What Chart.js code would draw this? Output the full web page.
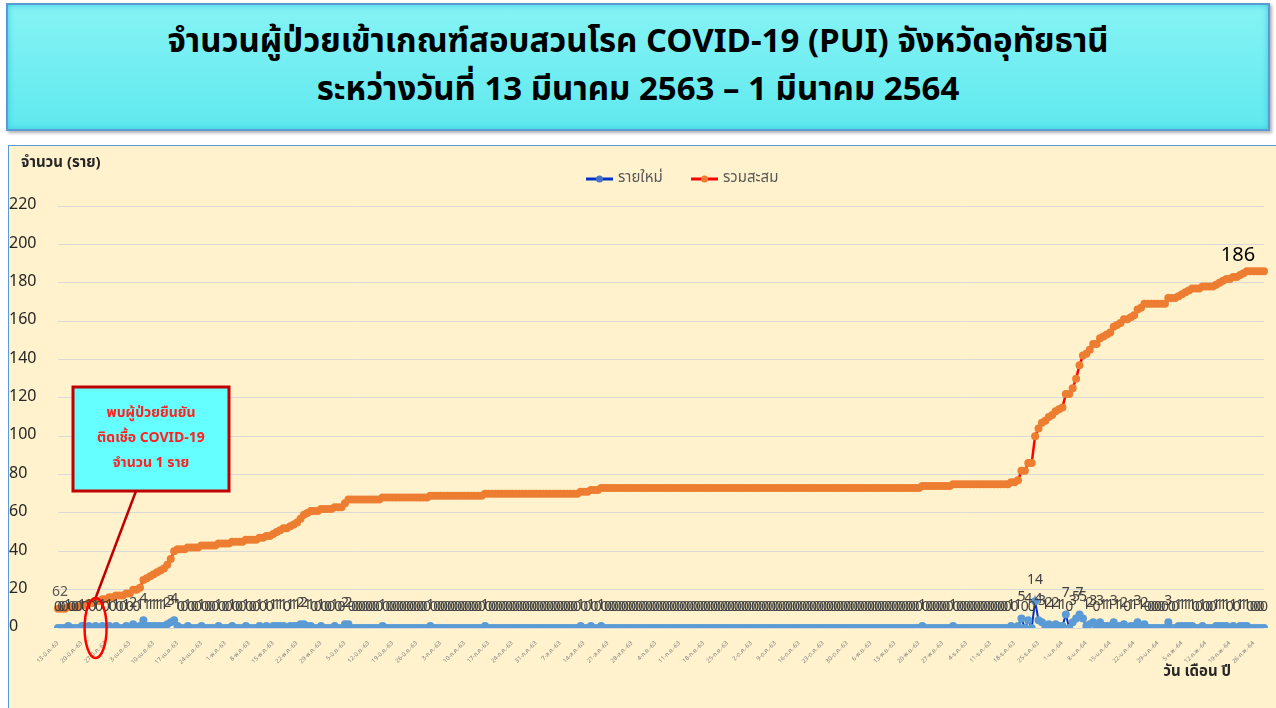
<!DOCTYPE html>
<html lang="th">
<head>
<meta charset="UTF-8">
<title>จำนวนผู้ป่วยเข้าเกณฑ์สอบสวนโรค COVID-19 (PUI) จังหวัดอุทัยธานี</title>
<script src="https://cdn.jsdelivr.net/npm/chart.js"></script>
<style>
    body {
        margin: 0;
        background: #ffffff;
        font-family: Tahoma, "Noto Sans Thai", "Noto Sans", "DejaVu Sans", sans-serif;
    }
    .title-box {
        position: absolute;
        left: 6px;
        top: 3px;
        width: 1260px;
        height: 124px;
        border: 2px solid #5b9bd5;
        background: linear-gradient(to bottom, #86f3f5, #5fe9ee);
        box-shadow: inset 0 0 6px #3cc7e0, 2px 2px 3px #b0b0b0;
        text-align: center;
        color: #000;
        font-weight: bold;
        font-size: 33px;
    }
    .title-box div { position: absolute; left: 0; right: 0; }
    .chart-box {
        position: absolute;
        left: 8px;
        top: 145px;
        width: 1268px;
        height: 563px;
        background: #fff2cc;
        border-left: 1px solid #5b9bd5;
        border-top: 1px solid #5b9bd5;
    }
</style>
</head>
<body>
<div class="title-box">
    <div style="top:12px">จำนวนผู้ป่วยเข้าเกณฑ์สอบสวนโรค COVID-19 (PUI) จังหวัดอุทัยธานี</div>
    <div style="top:60px">ระหว่างวันที่ 13 มีนาคม 2563 – 1 มีนาคม 2564</div>
</div>
<div class="chart-box">
    <canvas id="puiChart" width="1268" height="563"></canvas>
</div>

<script>
// ข้อมูลรายวัน 13 มี.ค. 63 - 1 มี.ค. 64 (354 วัน)
const thaiMonths = ['ม.ค.', 'ก.พ.', 'มี.ค.', 'เม.ย.', 'พ.ค.', 'มิ.ย.', 'ก.ค.', 'ส.ค.', 'ก.ย.', 'ต.ค.', 'พ.ย.', 'ธ.ค.'];
const firstDay = [2020, 2, 13];
const dayCount = 354;

// รายใหม่
const dailyNew = [
    0, 0, 0, 1, 0, 0, 0, 1, 0, 1,
    0, 1, 0, 1, 0, 1, 0, 1, 0, 0,
    1, 0, 2, 0, 1, 4, 1, 1, 1, 1,
    1, 1, 2, 3, 4, 1, 0, 0, 1, 0,
    0, 0, 1, 0, 0, 0, 0, 1, 0, 0,
    0, 1, 0, 0, 0, 1, 0, 0, 0, 1,
    0, 1, 0, 1, 1, 1, 1, 0, 1, 1,
    1, 2, 2, 1, 1, 0, 0, 1, 0, 0,
    0, 1, 0, 0, 2, 2, 0, 0, 0, 0,
    0, 0, 0, 0, 0, 1, 0, 0, 0, 0,
    0, 0, 0, 0, 0, 0, 0, 0, 0, 1,
    0, 0, 0, 0, 0, 0, 0, 0, 0, 0,
    0, 0, 0, 0, 0, 1, 0, 0, 0, 0,
    0, 0, 0, 0, 0, 0, 0, 0, 0, 0,
    0, 0, 0, 0, 0, 0, 0, 0, 0, 0,
    0, 0, 0, 1, 0, 0, 1, 0, 0, 1,
    0, 0, 0, 0, 0, 0, 0, 0, 0, 0,
    0, 0, 0, 0, 0, 0, 0, 0, 0, 0,
    0, 0, 0, 0, 0, 0, 0, 0, 0, 0,
    0, 0, 0, 0, 0, 0, 0, 0, 0, 0,
    0, 0, 0, 0, 0, 0, 0, 0, 0, 0,
    0, 0, 0, 0, 0, 0, 0, 0, 0, 0,
    0, 0, 0, 0, 0, 0, 0, 0, 0, 0,
    0, 0, 0, 0, 0, 0, 0, 0, 0, 0,
    0, 0, 0, 0, 0, 0, 0, 0, 0, 0,
    0, 0, 0, 1, 0, 0, 0, 0, 0, 0,
    0, 0, 1, 0, 0, 0, 0, 0, 0, 0,
    0, 0, 0, 0, 0, 0, 0, 0, 0, 1,
    0, 1, 5, 0, 4, 0, 14, 4, 3, 1,
    2, 1, 2, 1, 1, 7, 0, 3, 5, 7,
    5, 1, 2, 3, 0, 3, 1, 1, 1, 3,
    1, 1, 2, 0, 1, 1, 3, 1, 2, 0,
    0, 0, 0, 0, 0, 3, 0, 0, 1, 1,
    1, 1, 1, 0, 0, 1, 0, 0, 0, 1,
    1, 1, 1, 0, 1, 0, 1, 1, 1, 0,
    0, 0, 0, 0
];
// ยอดสะสมก่อนวันแรกของกราฟ
const startTotal = 10;
// ป้ายที่จุดแรกและจุดสุดท้ายของเส้นสะสม
const totalEndLabels = ['62', '186'];

const seriesNames = ['รายใหม่', 'รวมสะสม'];
const yTicks = { min: 0, max: 220, step: 20 };

const FONT = 'Tahoma, "Noto Sans Thai", "Noto Sans", "DejaVu Sans", sans-serif';

// วันที่ เช่น 13-มี.ค.-63
const dateLabels = [];
for (let i = 0; i < dayCount; i++) {
    const d = new Date(firstDay[0], firstDay[1], firstDay[2] + i);
    const yy = String(d.getFullYear() + 543).slice(2);
    dateLabels.push(d.getDate() + '-' + thaiMonths[d.getMonth()] + '-' + yy);
}

// รวมสะสม = ยอดเดิม + รายใหม่ทีละวัน
const cumulative = [];
let running = startTotal;
dailyNew.forEach(v => { running += v; cumulative.push(running); });

const decorPlugin = {
    id: 'decor',
    afterDatasetsDraw(chart) {
        const ctx = chart.ctx;
        const xs = chart.scales.x, ys = chart.scales.y;
        ctx.save();

        // ป้ายค่ารายใหม่ทุกจุด
        ctx.font = '14px ' + FONT;
        ctx.fillStyle = '#404040';
        ctx.textAlign = 'center';
        ctx.textBaseline = 'middle';
        chart.getDatasetMeta(0).data.forEach((pt, i) => {
            ctx.fillText(String(dailyNew[i]), pt.x, pt.y - 20);
        });

        // ป้ายเส้นสะสม
        const tot = chart.getDatasetMeta(1).data;
        ctx.fillStyle = '#595959';
        ctx.font = '14px ' + FONT;
        ctx.fillText(totalEndLabels[0], tot[0].x + 2, tot[0].y - 16);
        ctx.fillStyle = '#000';
        ctx.font = '20px ' + FONT;
        ctx.fillText(totalEndLabels[1], tot[tot.length - 1].x - 26, tot[tot.length - 1].y - 14);

        // ชื่อแกน
        ctx.fillStyle = '#262626';
        ctx.font = 'bold 15px ' + FONT;
        ctx.textAlign = 'left';
        ctx.fillText('จำนวน (ราย)', 12, 18);
        ctx.font = 'bold 15px ' + FONT;
        ctx.textAlign = 'right';
        ctx.fillText('วัน เดือน ปี', 1222, 527);

        // คำอธิบาย
        const ly = 33;
        const items = [
            { x: 577, line: '#0033cc', dot: '#4472c4', text: seriesNames[0] },
            { x: 682, line: '#ff0000', dot: '#ed7d31', text: seriesNames[1] }
        ];
        ctx.font = '15px ' + FONT;
        ctx.textAlign = 'left';
        items.forEach(it => {
            ctx.strokeStyle = it.line;
            ctx.lineWidth = 3;
            ctx.beginPath();
            ctx.moveTo(it.x, ly);
            ctx.lineTo(it.x + 27, ly);
            ctx.stroke();
            ctx.fillStyle = it.dot;
            ctx.beginPath();
            ctx.arc(it.x + 13.5, ly, 3.5, 0, Math.PI * 2);
            ctx.fill();
            ctx.fillStyle = '#595959';
            ctx.fillText(it.text, it.x + 32, ly);
        });

        // วงรีและเส้นชี้ผู้ป่วยยืนยันรายแรก
        const cx = xs.getPixelForValue(11), cy = ys.getPixelForValue(0);
        ctx.strokeStyle = '#c00000';
        ctx.lineWidth = 2.5;
        ctx.beginPath();
        ctx.moveTo(127, 345);
        ctx.lineTo(cx, cy - 30);
        ctx.stroke();
        ctx.strokeStyle = '#ff0000';
        ctx.lineWidth = 2.5;
        ctx.beginPath();
        ctx.ellipse(cx, cy, 11, 30, 0, 0, Math.PI * 2);
        ctx.stroke();

        // กล่องข้อความ
        ctx.fillStyle = '#66ffff';
        ctx.fillRect(64, 241, 156, 104);
        ctx.strokeStyle = '#c00000';
        ctx.lineWidth = 3;
        ctx.strokeRect(64, 241, 156, 104);
        ctx.fillStyle = '#ff2020';
        ctx.font = 'bold 14px ' + FONT;
        ctx.textAlign = 'center';
        ctx.fillText('พบผู้ป่วยยืนยัน', 142, 268);
        ctx.fillText('ติดเชื้อ COVID-19', 142, 293);
        ctx.fillText('จำนวน 1 ราย', 142, 318);

        ctx.restore();
    }
};

new Chart(document.getElementById('puiChart'), {
    type: 'line',
    data: {
        labels: dateLabels,
        datasets: [{
            label: seriesNames[0],
            data: dailyNew,
            borderColor: '#0033cc',
            borderWidth: 2,
            backgroundColor: '#5b9bd5',
            pointBackgroundColor: '#5b9bd5',
            pointBorderWidth: 0,
            pointRadius: 4,
            tension: 0
        }, {
            label: seriesNames[1],
            data: cumulative,
            borderColor: '#ff0000',
            borderWidth: 2.5,
            backgroundColor: '#ed7d31',
            pointBackgroundColor: '#ed7d31',
            pointBorderWidth: 0,
            pointRadius: 4,
            tension: 0
        }]
    },
    options: {
        responsive: false,
        animation: false,
        layout: { padding: { top: 60, right: 13, left: 0, bottom: 0 } },
        plugins: {
            legend: { display: false },
            tooltip: { enabled: false }
        },
        scales: {
            x: {
                grid: { display: false },
                border: { display: false },
                afterFit: s => { s.height = 81; },
                ticks: {
                    autoSkip: false,
                    maxRotation: 45,
                    minRotation: 45,
                    padding: 4,
                    color: '#7f7f7f',
                    font: { size: 6, family: FONT },
                    callback: (v, i) => (i % 7 === 0 ? dateLabels[i] : '')
                }
            },
            y: {
                min: yTicks.min,
                max: yTicks.max,
                afterFit: s => { s.width = 49; },
                grid: { color: '#d9d9d9', drawTicks: false },
                border: { display: false },
                ticks: {
                    stepSize: yTicks.step,
                    crossAlign: 'far',
                    color: '#262626',
                    font: { size: 16, family: FONT }
                }
            }
        }
    },
    plugins: [decorPlugin]
});
</script>
</body>
</html>
